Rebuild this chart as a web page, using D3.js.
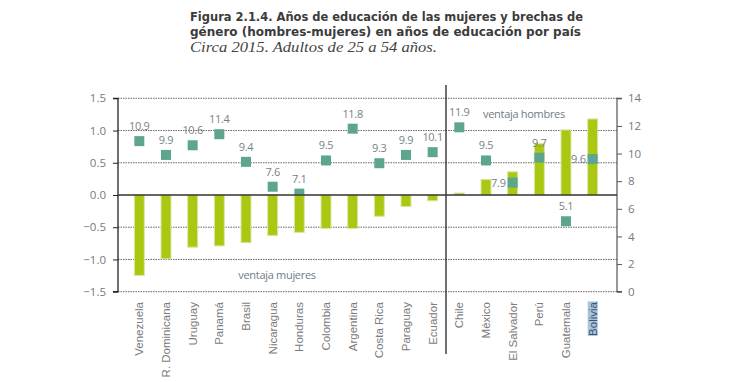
<!DOCTYPE html>
<html><head><meta charset="utf-8">
<script src="https://cdn.jsdelivr.net/npm/d3@7"></script>
<style>body{margin:0;background:#fff}svg{display:block}</style>
</head><body>
<svg id="c" width="737" height="382"></svg>
<script>
const countries = ["Venezuela","R. Dominicana","Uruguay","Panamá","Brasil","Nicaragua","Honduras","Colombia","Argentina","Costa Rica","Paraguay","Ecuador","Chile","México","El Salvador","Perú","Guatemala","Bolivia"];
const gapValues = [-1.25,-0.99,-0.81,-0.79,-0.74,-0.63,-0.58,-0.52,-0.52,-0.33,-0.18,-0.09,0.03,0.24,0.36,0.80,1.01,1.18];
const womenYears = [10.9,9.9,10.6,11.4,9.4,7.6,7.1,9.5,11.8,9.3,9.9,10.1,11.9,9.5,7.9,9.7,5.1,9.6];
const leftTicks = [-1.5,-1.0,-0.5,0.0,0.5,1.0,1.5];
const rightTicks = [0,2,4,6,8,10,12,14];
const labelLeftOf = ["El Salvador","Bolivia"];
const highlighted = ["Bolivia"];

const svg = d3.select("#c");
const X0 = 118, X1 = 617, YT = 98.3, YB = 291.7;
const x = d3.scaleBand().domain(countries).range([126, 606]).paddingInner(0.625).paddingOuter(0.3125);
const y = d3.scaleLinear().domain([-1.5, 1.5]).range([YB, YT]);
const y2 = d3.scaleLinear().domain([0, 14]).range([YB, YT]);
const cx = d => x(d) + x.bandwidth() / 2;
const greyTxt = "#6f7b88";

// title
const t = svg.append("g").attr("fill", "#3b3b3b");
t.append("text").attr("x", 190).attr("y", 20.5).attr("font-family", "'DejaVu Sans', sans-serif")
  .attr("font-weight", 700).attr("font-size", 13).attr("textLength", 393).attr("lengthAdjust", "spacingAndGlyphs")
  .text("Figura 2.1.4. Años de educación de las mujeres y brechas de");
t.append("text").attr("x", 190).attr("y", 36).attr("font-family", "'DejaVu Sans', sans-serif")
  .attr("font-weight", 700).attr("font-size", 13).attr("textLength", 391).attr("lengthAdjust", "spacingAndGlyphs")
  .text("género (hombres-mujeres) en años de educación por país");
t.append("text").attr("x", 190).attr("y", 51.5).attr("font-family", "'Liberation Serif', serif")
  .attr("font-style", "italic").attr("font-size", 14).attr("textLength", 247).attr("lengthAdjust", "spacingAndGlyphs")
  .attr("fill", "#444").text("Circa 2015. Adultos de 25 a 54 años.");

// gridlines
svg.append("g").selectAll("line").data(leftTicks.filter(v => v !== 0)).join("line")
  .attr("x1", X0).attr("x2", X1).attr("y1", d => y(d)).attr("y2", d => y(d))
  .attr("stroke", "#666").attr("stroke-width", 1).attr("stroke-dasharray", "1.5,1");

// left axis
const la = svg.append("g").attr("transform", `translate(${X0},0)`)
  .call(d3.axisLeft(y).tickValues(leftTicks).tickFormat(d3.format(".1f")).tickSize(5).tickPadding(7));
la.select(".domain").attr("stroke", "#222").attr("stroke-width", 1.3).attr("d", `M-5,${YT}H0V${YB}H-5`);
la.selectAll(".tick line").attr("stroke", "#222");
la.selectAll(".tick text").attr("fill", greyTxt).attr("font-family", "'Open Sans', sans-serif").attr("font-size", 11.5);

// right axis
const ra = svg.append("g").attr("transform", `translate(${X1},0)`)
  .call(d3.axisRight(y2).tickValues(rightTicks).tickSize(5).tickPadding(6));
ra.select(".domain").attr("stroke", "#555").attr("stroke-width", 1.2).attr("d", `M5,${YT}H0V${YB}H5`);
ra.selectAll(".tick line").attr("stroke", "#555");
ra.selectAll(".tick text").attr("fill", greyTxt).attr("font-family", "'Open Sans', sans-serif").attr("font-size", 11.5);

// divider
const divX = (cx("Ecuador") + cx("Chile")) / 2;
svg.append("line").attr("x1", divX).attr("x2", divX).attr("y1", 85).attr("y2", 354)
  .attr("stroke", "#222").attr("stroke-width", 1.3);

const barAttrs = sel => sel.attr("x", d => x(d.c)).attr("width", x.bandwidth())
  .attr("y", d => y(Math.max(0, d.v))).attr("height", d => Math.abs(y(d.v) - y(0)))
  .attr("fill", "#aac811").attr("stroke", "#dbe7a6").attr("stroke-width", 1);
const rows = countries.map((c, i) => ({c, v: gapValues[i], w: womenYears[i]}));

// positive bars
svg.append("g").selectAll("rect").data(rows.filter(d => d.v >= 0)).join("rect").call(barAttrs);
// squares
svg.append("g").selectAll("rect").data(rows).join("rect")
  .attr("x", d => cx(d.c) - 5).attr("y", d => y2(d.w) - 5).attr("width", 10).attr("height", 10)
  .attr("fill", "#5ea58f");
// negative bars
svg.append("g").selectAll("rect").data(rows.filter(d => d.v < 0)).join("rect").call(barAttrs);

// zero line
svg.append("line").attr("x1", X0).attr("x2", X1).attr("y1", y(0)).attr("y2", y(0))
  .attr("stroke", "#333").attr("stroke-width", 1.5);

// square labels
svg.append("g").selectAll("text").data(rows).join("text")
  .attr("x", d => labelLeftOf.includes(d.c) ? cx(d.c) - 7 : cx(d.c))
  .attr("y", d => labelLeftOf.includes(d.c) ? y2(d.w) + 4 : y2(d.w) - 11)
  .attr("text-anchor", d => labelLeftOf.includes(d.c) ? "end" : "middle")
  .attr("fill", "#7a7f86").attr("font-family", "'Open Sans', sans-serif").attr("font-size", 11)
  .attr("letter-spacing", -0.3)
  .text(d => d3.format(".1f")(d.w));

// annotations
svg.append("text").attr("x", 277).attr("y", 279).attr("text-anchor", "middle")
  .attr("fill", greyTxt).attr("font-family", "'Open Sans', sans-serif").attr("font-size", 11).attr("letter-spacing", -0.3)
  .text("ventaja mujeres");
svg.append("text").attr("x", 524).attr("y", 118).attr("text-anchor", "middle")
  .attr("fill", greyTxt).attr("font-family", "'Open Sans', sans-serif").attr("font-size", 11).attr("letter-spacing", -0.3)
  .text("ventaja hombres");

// x labels
const xl = svg.append("g");
rows.forEach(d => {
  const g = xl.append("g").attr("transform", `translate(${cx(d.c)},302) rotate(-90)`);
  const txt = g.append("text").attr("x", 0).attr("y", 0).attr("dy", "0.35em").attr("text-anchor", "end")
    .attr("fill", highlighted.includes(d.c) ? "#3e5470" : "#7a7a7a")
    .attr("font-family", "'Liberation Sans Narrow', 'Arial Narrow', 'Liberation Sans', sans-serif")
    .attr("font-size", 11.5).text(d.c);
  if (highlighted.includes(d.c)) {
    const bb = txt.node().getBBox();
    g.insert("rect", "text").attr("x", bb.x).attr("y", bb.y + 1).attr("width", bb.width).attr("height", bb.height - 2)
      .attr("fill", "#a7c4df");
  }
});
</script>
</body></html>
